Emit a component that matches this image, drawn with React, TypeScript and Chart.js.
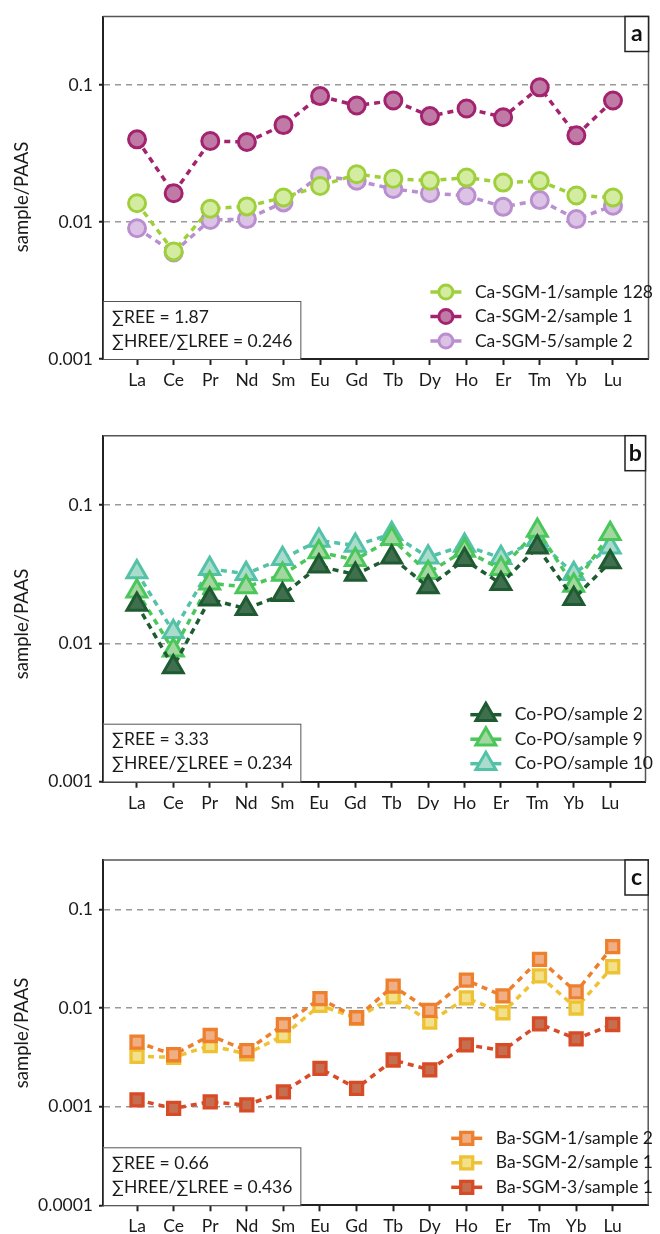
import React, { useEffect, useRef } from "react";
import { Chart, registerables } from "chart.js";

Chart.register(...registerables);

// ---------- data ----------
const elements = ["La", "Ce", "Pr", "Nd", "Sm", "Eu", "Gd", "Tb", "Dy", "Ho", "Er", "Tm", "Yb", "Lu"];

const caSgm1 = [0.0137, 0.0061, 0.0125, 0.013, 0.0151, 0.0183, 0.0223, 0.0207, 0.02, 0.0211, 0.0194, 0.0199, 0.0156, 0.0151];
const caSgm2 = [0.0401, 0.0162, 0.039, 0.0384, 0.051, 0.083, 0.0708, 0.077, 0.0593, 0.0674, 0.0582, 0.0962, 0.0429, 0.077];
const caSgm5 = [0.009, 0.006, 0.01035, 0.0105, 0.0139, 0.0217, 0.02, 0.0174, 0.0162, 0.0156, 0.0129, 0.01445, 0.0105, 0.01315];

const coPo2 = [0.0191, 0.00675, 0.0208, 0.0178, 0.0224, 0.036, 0.0314, 0.0419, 0.0255, 0.0401, 0.0269, 0.0494, 0.021, 0.0386];
const coPo9 = [0.0238, 0.0089, 0.0272, 0.0255, 0.0314, 0.0456, 0.0401, 0.0569, 0.0323, 0.0469, 0.0345, 0.0653, 0.0262, 0.0618];
const coPo10 = [0.0327, 0.0121, 0.0345, 0.0318, 0.0408, 0.0553, 0.0509, 0.0618, 0.0419, 0.0509, 0.0415, 0.056, 0.0318, 0.0494];

const baSgm1 = [0.0045, 0.00336, 0.00526, 0.0037, 0.00676, 0.01245, 0.00796, 0.01663, 0.00946, 0.01914, 0.01325, 0.0311, 0.01456, 0.0419];
const baSgm2 = [0.00324, 0.00316, 0.00416, 0.00342, 0.00526, 0.01063, 0.0079, 0.01295, 0.0072, 0.01265, 0.00895, 0.0212, 0.01, 0.0262];
const baSgm3 = [0.00117, 0.00096, 0.00112, 0.00104, 0.00141, 0.00244, 0.00153, 0.00297, 0.00236, 0.00423, 0.0037, 0.00691, 0.00486, 0.0068];

const ticksAB = [0.001, 0.01, 0.1];
const tickLabelsAB = ["0.001", "0.01", "0.1"];
const ticksC = [0.0001, 0.001, 0.01, 0.1];
const tickLabelsC = ["0.0001", "0.001", "0.01", "0.1"];

const statsA = ["∑REE = 1.87", "∑HREE/∑LREE = 0.246"];
const statsB = ["∑REE = 3.33", "∑HREE/∑LREE = 0.234"];
const statsC = ["∑REE = 0.66", "∑HREE/∑LREE = 0.436"];

const yTitle = "sample/PAAS";

// ---------- styling ----------
const FONT = "Lato, 'Open Sans', sans-serif";
const FS = 17.5;
const TEXT = "#1a1a1a";

type Series = {
  label: string;
  values: number[];
  stroke: string;
  fill: string;
  marker: "circle" | "triangle" | "rect";
};

type PanelProps = {
  top: number;
  height: number;
  areaTop: number;
  areaBottom: number;
  yMin: number;
  yTicks: number[];
  yTickLabels: string[];
  series: Series[];
  stats: string[];
  letter: string;
  titleY: number;
};

const markerSize = (m: string) =>
  m === "circle" ? { r: 8.5, bw: 3, lr: 7 } : m === "triangle" ? { r: 11.5, bw: 3, lr: 11.5 } : { r: 8.5, bw: 3.3, lr: 8.5 };

function drawMarker(ctx: CanvasRenderingContext2D, m: string, x: number, y: number, r: number, bw: number, fill: string, stroke: string) {
  ctx.save();
  ctx.beginPath();
  if (m === "circle") {
    ctx.arc(x, y, r, 0, Math.PI * 2);
  } else if (m === "triangle") {
    let rad = 0;
    ctx.moveTo(x + Math.sin(rad) * r, y - Math.cos(rad) * r);
    rad += (2 * Math.PI) / 3;
    ctx.lineTo(x + Math.sin(rad) * r, y - Math.cos(rad) * r);
    rad += (2 * Math.PI) / 3;
    ctx.lineTo(x + Math.sin(rad) * r, y - Math.cos(rad) * r);
  } else {
    const s = r * Math.SQRT1_2;
    ctx.rect(x - s, y - s, 2 * s, 2 * s);
  }
  ctx.closePath();
  ctx.fillStyle = fill;
  ctx.fill();
  ctx.lineWidth = bw;
  ctx.strokeStyle = stroke;
  ctx.stroke();
  ctx.restore();
}

function Panel(p: PanelProps) {
  const ref = useRef<HTMLCanvasElement | null>(null);
  useEffect(() => {
    const canvas = ref.current;
    if (!canvas) return;
    const H = p.height;
    const decor = {
      id: "decor",
      afterDraw(chart: any) {
        const ctx: CanvasRenderingContext2D = chart.ctx;
        const a = chart.chartArea;
        ctx.save();
        // top & right frame
        ctx.strokeStyle = "#555";
        ctx.lineWidth = 1.5;
        ctx.beginPath();
        ctx.moveTo(a.left, a.top);
        ctx.lineTo(a.right, a.top);
        ctx.lineTo(a.right, a.bottom);
        ctx.stroke();

        // panel letter box
        const bx = 625, bw = a.right - 625, bh = 35;
        ctx.fillStyle = "#fff";
        ctx.fillRect(bx, a.top, bw, bh);
        ctx.strokeStyle = "#222";
        ctx.lineWidth = 1.5;
        ctx.strokeRect(bx, a.top, bw, bh);
        ctx.fillStyle = "#111";
        ctx.font = `bold 23px ${FONT}`;
        ctx.textAlign = "center";
        ctx.textBaseline = "middle";
        ctx.fillText(p.letter, bx + bw / 2, a.top + bh / 2);

        // stats box
        ctx.font = `${FS}px ${FONT}`;
        ctx.textAlign = "left";
        const sw = Math.max(...p.stats.map((s) => ctx.measureText(s).width));
        const sTop = a.bottom - 58;
        const sRight = 112 + sw + 8;
        ctx.fillStyle = "#fff";
        ctx.fillRect(a.left, sTop, sRight - a.left, a.bottom - sTop);
        ctx.strokeStyle = "#555";
        ctx.lineWidth = 1;
        ctx.strokeRect(a.left + 0.5, sTop + 0.5, sRight - a.left, a.bottom - sTop);
        ctx.fillStyle = TEXT;
        ctx.textBaseline = "middle";
        ctx.fillText(p.stats[0], 112, a.bottom - 42);
        ctx.fillText(p.stats[1], 112, a.bottom - 18);

        // legend
        const lw = Math.max(...p.series.map((s) => ctx.measureText(s.label).width));
        const tx = 653 - lw;
        const cx = tx - 29;
        const n = p.series.length;
        p.series.forEach((s, i) => {
          const y = a.bottom - 18 - (n - 1 - i) * 24.5;
          ctx.strokeStyle = s.stroke;
          ctx.lineWidth = 3.5;
          ctx.beginPath();
          ctx.moveTo(cx - 15.5, y);
          ctx.lineTo(cx + 15.5, y);
          ctx.stroke();
          const ms = markerSize(s.marker);
          drawMarker(ctx, s.marker, cx, y, ms.lr, ms.bw, s.fill, s.stroke);
          ctx.fillStyle = TEXT;
          ctx.textAlign = "left";
          ctx.textBaseline = "middle";
          ctx.fillText(s.label, tx, y);
        });

        // y title
        ctx.save();
        ctx.translate(22, p.titleY);
        ctx.rotate(-Math.PI / 2);
        ctx.textAlign = "center";
        ctx.textBaseline = "middle";
        ctx.fillStyle = TEXT;
        ctx.font = `18.5px ${FONT}`;
        ctx.fillText(yTitle, 0, 0);
        ctx.restore();

        ctx.restore();
      },
    };

    const chart = new Chart(canvas, {
      type: "line",
      data: {
        datasets: p.series.map((s) => {
          const ms = markerSize(s.marker);
          return {
            label: s.label,
            data: s.values.map((v, i) => ({ x: i, y: v })),
            borderColor: s.stroke,
            backgroundColor: s.fill,
            borderWidth: 3.5,
            borderDash: [6, 5],
            pointStyle: s.marker,
            pointRadius: ms.r,
            pointHoverRadius: ms.r,
            pointBorderWidth: ms.bw,
            pointBackgroundColor: s.fill,
            pointBorderColor: s.stroke,
            fill: false,
            tension: 0,
          };
        }),
      },
      options: {
        animation: false,
        responsive: false,
        maintainAspectRatio: false,
        events: [],
        layout: { padding: { top: p.areaTop, right: 1.5, left: 0, bottom: 0 } },
        plugins: { legend: { display: false }, tooltip: { enabled: false } },
        scales: {
          x: {
            type: "linear",
            min: -0.93,
            max: 13.97,
            afterBuildTicks: (s: any) => {
              s.ticks = elements.map((_, i) => ({ value: i }));
            },
            afterFit: (s: any) => {
              s.height = H - p.areaBottom;
            },
            ticks: {
              callback: (_v: any, i: number) => elements[i],
              autoSkip: false,
              maxRotation: 0,
              padding: 5,
              color: TEXT,
              font: { family: FONT, size: FS },
            },
            grid: { drawOnChartArea: false, drawTicks: true, tickLength: 6, tickColor: "#222", tickWidth: 2 },
            border: { display: true, color: "#222", width: 2 },
          },
          y: {
            type: "logarithmic",
            min: p.yMin,
            max: Math.pow(10, -0.5),
            afterBuildTicks: (s: any) => {
              s.ticks = p.yTicks.map((v) => ({ value: v }));
            },
            afterFit: (s: any) => {
              s.width = 103;
            },
            ticks: {
              callback: (_v: any, i: number) => p.yTickLabels[i],
              padding: 6,
              color: TEXT,
              font: { family: FONT, size: FS },
            },
            grid: {
              color: (c: any) => (c.tick && c.tick.value === p.yMin ? "rgba(0,0,0,0)" : "#999"),
              lineWidth: 1.5,
              drawTicks: true,
              tickLength: 4,
              tickColor: "#222",
              tickWidth: 2,
              tickBorderDash: [],
            },
            border: { display: true, color: "#222", width: 2, dash: [6, 5] },
          },
        },
      } as any,
      plugins: [decor],
    });
    return () => chart.destroy();
  }, []);
  return (
    <canvas
      ref={ref}
      width={660}
      height={p.height}
      style={{ position: "absolute", left: 0, top: p.top, width: 660, height: p.height }}
    />
  );
}

const seriesA: Series[] = [
  { label: "Ca-SGM-1/sample 128", values: caSgm1, stroke: "#9fd03c", fill: "#d4eca2", marker: "circle" },
  { label: "Ca-SGM-2/sample 1", values: caSgm2, stroke: "#a3236f", fill: "#c07aa6", marker: "circle" },
  { label: "Ca-SGM-5/sample 2", values: caSgm5, stroke: "#ba8fd0", fill: "#dcc2e4", marker: "circle" },
];
const seriesB: Series[] = [
  { label: "Co-PO/sample 2", values: coPo2, stroke: "#1e5b31", fill: "#3f6f4e", marker: "triangle" },
  { label: "Co-PO/sample 9", values: coPo9, stroke: "#4ac65a", fill: "#a2d89f", marker: "triangle" },
  { label: "Co-PO/sample 10", values: coPo10, stroke: "#53c2a7", fill: "#a9dccd", marker: "triangle" },
];
const seriesC: Series[] = [
  { label: "Ba-SGM-1/sample 2", values: baSgm1, stroke: "#ee7f2d", fill: "#efae84", marker: "rect" },
  { label: "Ba-SGM-2/sample 1", values: baSgm2, stroke: "#eec233", fill: "#f2e08a", marker: "rect" },
  { label: "Ba-SGM-3/sample 1", values: baSgm3, stroke: "#d84b27", fill: "#c66e50", marker: "rect" },
];

export default function App() {
  return (
    <div style={{ position: "absolute", left: 0, top: 0, width: 660, height: 1234, background: "#fff", overflow: "hidden" }}>
      <Panel top={0} height={400} areaTop={13.5} areaBottom={359} yMin={0.001} yTicks={ticksAB} yTickLabels={tickLabelsAB} series={seriesA} stats={statsA} letter="a" titleY={197} />
      <Panel top={400} height={410} areaTop={35.7} areaBottom={381.7} yMin={0.001} yTicks={ticksAB} yTickLabels={tickLabelsAB} series={seriesB} stats={statsB} letter="b" titleY={224} />
      <Panel top={810} height={424} areaTop={50} areaBottom={395.3} yMin={0.0001} yTicks={ticksC} yTickLabels={tickLabelsC} series={seriesC} stats={statsC} letter="c" titleY={223} />
    </div>
  );
}
